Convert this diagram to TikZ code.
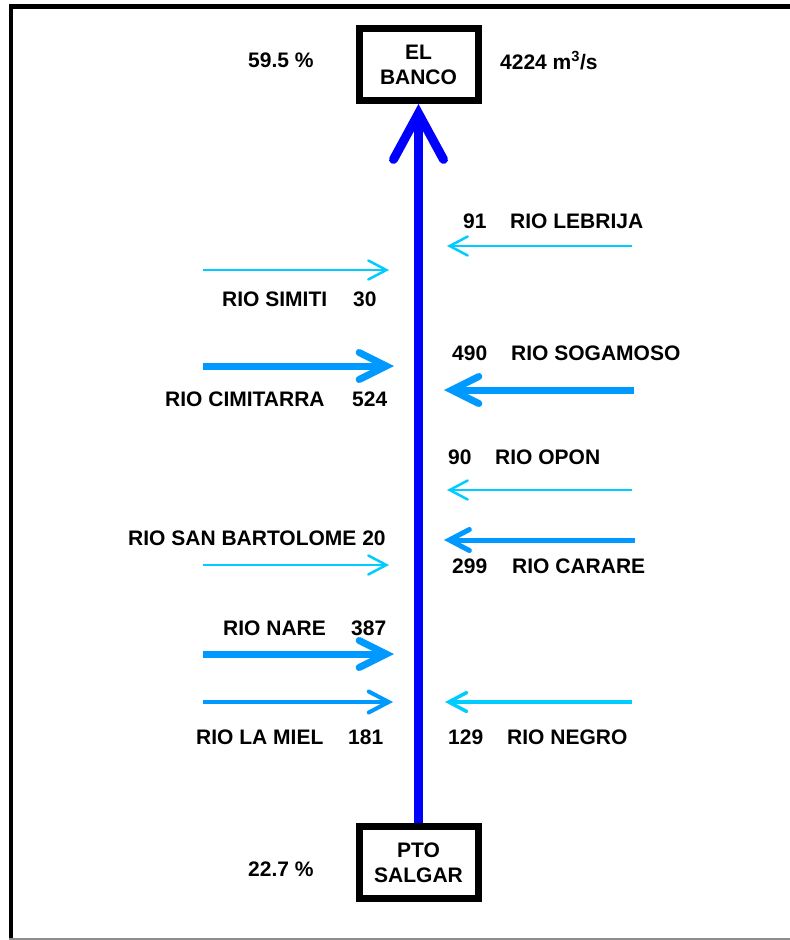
\documentclass[tikz,border=0pt]{standalone}
\usepackage{fontspec}
\setmainfont{Liberation Sans}
\usetikzlibrary{arrows.meta}
\definecolor{mainblue}{RGB}{0,0,255}
\definecolor{azure}{RGB}{0,153,255}
\definecolor{skyc}{RGB}{0,204,255}
\definecolor{framegray}{RGB}{140,140,140}
\tikzset{
  lbl/.style={font=\bfseries\fontsize{21}{25}\selectfont, inner sep=0pt, anchor=base west},
  station/.style={draw=black, line width=7pt, minimum width=119pt, minimum height=72pt,
    align=center, font=\bfseries\fontsize{21}{25}\selectfont, inner sep=0pt, fill=white},
  mainflow/.style={mainblue, line width=9pt,
    -{Straight Barb[length=46pt,width=50pt,line cap=round,line join=miter]}},
  tribthick/.style={azure, line width=7pt,
    -{Straight Barb[length=27pt,width=27pt,line cap=round,line join=miter]}},
  tribmid/.style={azure, line width=#1,
    -{Straight Barb[length=20pt,width=21pt,line cap=round,line join=miter]}},
  tribthin/.style={skyc, line width=#1,
    -{Straight Barb[length=18pt,width=19pt,line cap=round,line join=miter]}},
}
\begin{document}
\begin{tikzpicture}[x=1pt,y=-1pt]
\useasboundingbox (0,0) rectangle (790,940);
% frame
\draw[line width=5pt] (9,6.5) -- (790,6.5);
\draw[line width=4pt] (11,4) -- (11,939);
\draw[framegray, line width=1.5pt] (9,939) -- (790,939);

% stations
\node[station] (banco) at (418.5,64.5) {EL\\BANCO};
\node[station] (salgar) at (418.5,862.5) {PTO\\SALGAR};
\node[lbl] (pctbanco) at (248,67.5) {59.5 \%};
\node[lbl] (qbanco) at (500,69.5) {4224 m\textsuperscript{3}/s};
\node[lbl] (pctsalgar) at (248,876.5) {22.7 \%};

% main river
\draw[mainflow] (salgar.north) -- (banco.south);

% tributary end points
\coordinate (simS) at (203,270);  \coordinate (simE) at (389,270);
\coordinate (lebS) at (632,246);  \coordinate (lebE) at (447,246);
\coordinate (cimS) at (203,366);  \coordinate (cimE) at (394,366);
\coordinate (sogS) at (634,390);  \coordinate (sogE) at (444,390);
\coordinate (opoS) at (632,490);  \coordinate (opoE) at (447,490);
\coordinate (carS) at (635,540);  \coordinate (carE) at (444,540);
\coordinate (sbaS) at (203,565);  \coordinate (sbaE) at (389,565);
\coordinate (narS) at (203,654);  \coordinate (narE) at (394,654);
\coordinate (mieS) at (203,702);  \coordinate (mieE) at (393,702);
\coordinate (negS) at (632,702);  \coordinate (negE) at (445,702);

% tributaries
\draw[tribthin=2.5pt] (simS) -- (simE);
\draw[tribthin=2.5pt] (lebS) -- (lebE);
\draw[tribthick] (cimS) -- (cimE);
\draw[tribthick] (sogS) -- (sogE);
\draw[tribthin=2.5pt] (opoS) -- (opoE);
\draw[tribmid=5pt] (carS) -- (carE);
\draw[tribthin=2.5pt] (sbaS) -- (sbaE);
\draw[tribthick] (narS) -- (narE);
\draw[tribmid=4pt] (mieS) -- (mieE);
\draw[tribthin=3.5pt] (negS) -- (negE);

% labels
\node[lbl] (q91) at (463,228.5) {91};
\node[lbl] (nleb) at (510,228.5) {RIO LEBRIJA};
\node[lbl] (nsim) at (222,306.5) {RIO SIMITI};
\node[lbl] (q30) at (353,306.5) {30};
\node[lbl] (q490) at (452,360.5) {490};
\node[lbl] (nsog) at (511,360.5) {RIO SOGAMOSO};
\node[lbl] (ncim) at (165,406.5) {RIO CIMITARRA};
\node[lbl] (q524) at (352,406.5) {524};
\node[lbl] (q90) at (448,464.5) {90};
\node[lbl] (nopo) at (495,464.5) {RIO OPON};
\node[lbl] (nsba) at (128,545.5) {RIO SAN BARTOLOME 20};
\node[lbl] (q299) at (452,573.5) {299};
\node[lbl] (ncar) at (512,573.5) {RIO CARARE};
\node[lbl] (nnar) at (223,635.5) {RIO NARE};
\node[lbl] (q387) at (351,635.5) {387};
\node[lbl] (nmie) at (196,744.5) {RIO LA MIEL};
\node[lbl] (q181) at (348,744.5) {181};
\node[lbl] (q129) at (448,744.5) {129};
\node[lbl] (nneg) at (507,744.5) {RIO NEGRO};
\end{tikzpicture}
\end{document}
